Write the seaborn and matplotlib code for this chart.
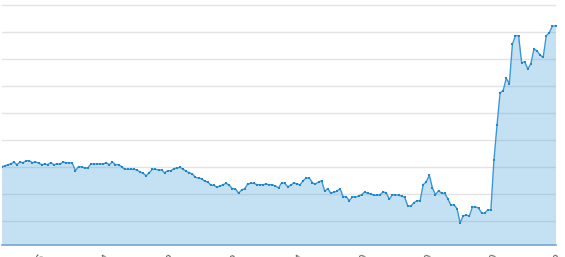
import matplotlib
matplotlib.use("Agg")
import matplotlib.pyplot as plt
import seaborn as sns
import pandas as pd
import numpy as np

# Heights of the series (arbitrary units)
values = [
    78.3, 79, 80.3, 81, 83, 80.3, 83, 82.3, 84.3, 84.3,
    82.3, 83, 82, 80.3, 81, 80.3, 82.3, 80.3, 81, 81,
    83, 82.3, 82.3, 81.7, 74.3, 78.3, 78.3, 77, 77, 81,
    81, 81, 81, 81, 82.3, 80.3, 83, 80.3, 80.3, 78.3,
    75.7, 75.7, 75.7, 75.7, 75, 73, 71.7, 69.3, 72.3, 75.7,
    75.7, 75, 75, 72.3, 74.3, 74.3, 76.3, 77,
    77.7, 75.7, 73.7, 72.3, 71, 67.7, 67, 66.3, 63.7, 63,
    59.7, 59.7, 57.7, 59, 60.3, 61.7, 59.7, 56.3, 56.3, 51.7,
    55, 56.3, 61, 61.7, 61.7, 60.3, 60.3, 60.3, 61, 60.3,
    60.3, 59, 57, 62.3, 61.7, 58.3, 59.7, 62.3, 61, 60.3,
    64.3, 67, 67, 62.3, 61, 63, 64.3, 53.7, 56.3, 51.7,
    53, 53.7, 56.3, 48.3, 48.3, 44.3, 48.3, 47.7, 49, 50.3,
    53, 51.7, 51, 49.7, 49.7, 50.3, 53, 52.3, 45.7, 50.3,
    50.3, 49.7, 49, 47.7, 39, 39, 42.3, 44.3, 44.3, 60.3,
    63, 69.7, 57, 50.3, 54.3, 51.7, 51.7, 46.3, 39.7, 40.3,
    36.3, 22.3,
    29, 30, 29, 38, 38, 37, 32, 32, 35, 35,
    85, 120, 152.3, 154.3, 166.7, 161.3, 200.7, 209.3, 209.3, 182.3,
    183.3, 176, 181.3, 196, 194, 190, 187.7, 209.3, 212.3, 219, 219,
]
x_index = list(range(len(values)))

tick_positions = [12, 33, 54, 75, 96, 117, 138, 159, 180]
tick_labels = ["2017-05-26", "2017-06-14", "2017-07-08", "2017-08-02",
               "2017-08-24", "2017-09-20", "2017-10-10", "2017-11-10",
               "2017-12-08"]
grid_levels = [23.7, 50.7, 77.7, 104.7, 131.7, 158.7, 185.7, 212.7, 239.7]

df = pd.DataFrame({"x": x_index, "y": values})

sns.set_style("white")
W, H = 565, 257
fig = plt.figure(figsize=(W / 100, H / 100), dpi=100)
ax = fig.add_axes([1.6 / W, 12 / H, (555.5 - 1.6) / W, 245 / H])

line_color = "#3a97d6"
ax.fill_between(df["x"], df["y"], 0, color="#4aa0dc", alpha=0.32,
                linewidth=0, zorder=1)
sns.lineplot(data=df, x="x", y="y", ax=ax, color=line_color, linewidth=1.0,
             marker="s", markersize=1.8, markeredgewidth=0,
             markerfacecolor="#1f86c8", zorder=3)

ax.set_xlim(0, len(values) - 1)
ax.set_ylim(0, 245)
ax.set_yticks(grid_levels)
ax.set_yticklabels([])
ax.tick_params(axis="y", length=0)
ax.set_axisbelow(True)
ax.yaxis.grid(True, color="#e3e3e3", linewidth=1.0)

ax.set_xticks(tick_positions)
ax.set_xticklabels(tick_labels, rotation=55, ha="right",
                   rotation_mode="anchor", fontsize=8.5, color="#666666")
ax.tick_params(axis="x", length=5 * 0.72, width=1, color="#79a7cf",
               direction="out", pad=1)
ax.set_xlabel("")
ax.set_ylabel("")

for s in ["top", "right", "left"]:
    ax.spines[s].set_visible(False)
ax.spines["bottom"].set_color("#79a7cf")
ax.spines["bottom"].set_linewidth(1.2)
ax.spines["bottom"].set_zorder(4)

fig.savefig("out.png", dpi=100)
